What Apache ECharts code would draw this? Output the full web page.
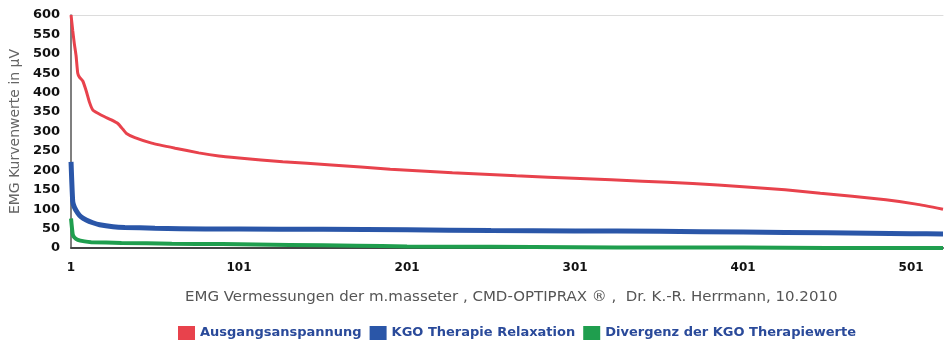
<!DOCTYPE html>
<html>
<head>
<meta charset="utf-8">
<script src="https://cdn.jsdelivr.net/npm/echarts@6/dist/echarts.min.js"></script>
<style>
  html, body { margin: 0; padding: 0; background: #fff; }
  #chart { width: 946px; height: 347px; }
</style>
</head>
<body>
<div id="chart"></div>
<script>
// Sample positions (0-based measurement index) and EMG values in µV
const redIdx = [0, 1, 2, 3, 4, 5, 7, 9, 11, 13, 16, 20, 24, 28, 31, 33, 38, 48, 62, 76, 88, 100, 126, 155, 190, 227, 265, 303, 340, 370, 400, 425, 446, 465, 485, 503, 519];
const redVal = [600, 560, 525, 495, 450, 440, 430, 405, 375, 355, 347, 338, 330, 320, 305, 295, 284, 270, 257, 245, 237, 232, 222, 214, 203, 194, 186, 179, 172, 166, 158, 150, 141, 133, 124, 113, 100];

const blueIdx = [0, 1, 2, 4, 6, 9, 13, 17, 25, 32, 50, 80, 100, 150, 200, 250, 300, 350, 400, 450, 500, 519];
const blueVal = [222, 120, 105, 90, 80, 72, 65, 60, 55, 53, 51, 49, 49, 48, 47, 45, 44, 43, 41, 39, 37, 36];

const greenIdx = [0, 1, 2, 4, 8, 12, 30, 60, 90, 130, 170, 200, 250, 300, 350, 400, 450, 519];
const greenVal = [76, 35, 27, 21, 17, 15, 13, 11, 10, 8, 6, 4, 3, 2, 1, 1, 0, 0];

const seriesNames = ['Ausgangsanspannung', 'KGO Therapie Relaxation', 'Divergenz der KGO Therapiewerte'];
const seriesColors = ['#e8424c', '#2a56a8', '#1f9e4e'];
const yTicks = [0, 50, 100, 150, 200, 250, 300, 350, 400, 450, 500, 550, 600];

function pairs(xs, ys) { return xs.map((x, i) => [x, ys[i]]); }

const chart = echarts.init(document.getElementById('chart'), null, { renderer: 'canvas' });
const font = '"DejaVu Sans", Verdana, sans-serif';

chart.setOption({
  animation: false,
  backgroundColor: '#ffffff',
  grid: { left: 71, right: 0, top: 15, bottom: 99, containLabel: false },
  graphic: [{
    type: 'text',
    x: 185,
    y: 290,
    scaleX: 1.07,
    style: {
      text: 'EMG Vermessungen der m.masseter , CMD-OPTIPRAX ® ,  Dr. K.-R. Herrmann, 10.2010',
      fill: '#555', font: '14px ' + font
    }
  }],
  legend: {
    data: seriesNames,
    top: 321,
    left: 173,
    itemWidth: 17,
    itemHeight: 14,
    itemGap: 8,
    icon: 'rect',
    textStyle: { color: '#2a4a9a', fontSize: 13, fontWeight: 'bold', fontFamily: font }
  },
  xAxis: [{
    type: 'value',
    min: 0,
    max: 519,
    interval: 100,
    axisLine: { show: true, lineStyle: { color: '#444', width: 2 } },
    axisTick: { show: false },
    splitLine: { show: false },
    axisLabel: {
      color: '#111', fontSize: 12, fontWeight: 'bold', fontFamily: font, margin: 14,
      formatter: v => (v % 100 === 0 ? String(v + 1) : '')
    }
  }, {
    type: 'value',
    position: 'top',
    min: 0,
    max: 519,
    axisLine: { show: true, lineStyle: { color: '#dcdcdc', width: 1 } },
    axisTick: { show: false },
    axisLabel: { show: false },
    splitLine: { show: false }
  }],
  yAxis: {
    type: 'value',
    min: yTicks[0],
    max: yTicks[yTicks.length - 1],
    interval: 50,
    name: 'EMG Kurvenwerte in µV',
    nameLocation: 'middle',
    nameGap: 47,
    nameRotate: 90,
    nameTextStyle: { color: '#666', fontSize: 14, fontFamily: font },
    axisLine: { show: true, lineStyle: { color: '#555', width: 1.5 } },
    axisTick: { show: false },
    splitLine: { show: false },
    axisLabel: { color: '#111', fontSize: 13, fontWeight: 'bold', fontFamily: font, margin: 11 }
  },
  series: [
    { name: seriesNames[0], type: 'line', data: pairs(redIdx, redVal), showSymbol: false, smooth: 0.15,
      itemStyle: { color: seriesColors[0] }, lineStyle: { color: seriesColors[0], width: 3 }, z: 3 },
    { name: seriesNames[1], type: 'line', data: pairs(blueIdx, blueVal), showSymbol: false, smooth: 0.15,
      itemStyle: { color: seriesColors[1] }, lineStyle: { color: seriesColors[1], width: 5 }, z: 2 },
    { name: seriesNames[2], type: 'line', data: pairs(greenIdx, greenVal), showSymbol: false, smooth: 0.15,
      itemStyle: { color: seriesColors[2] }, lineStyle: { color: seriesColors[2], width: 4 }, z: 4 }
  ]
});
</script>
</body>
</html>
